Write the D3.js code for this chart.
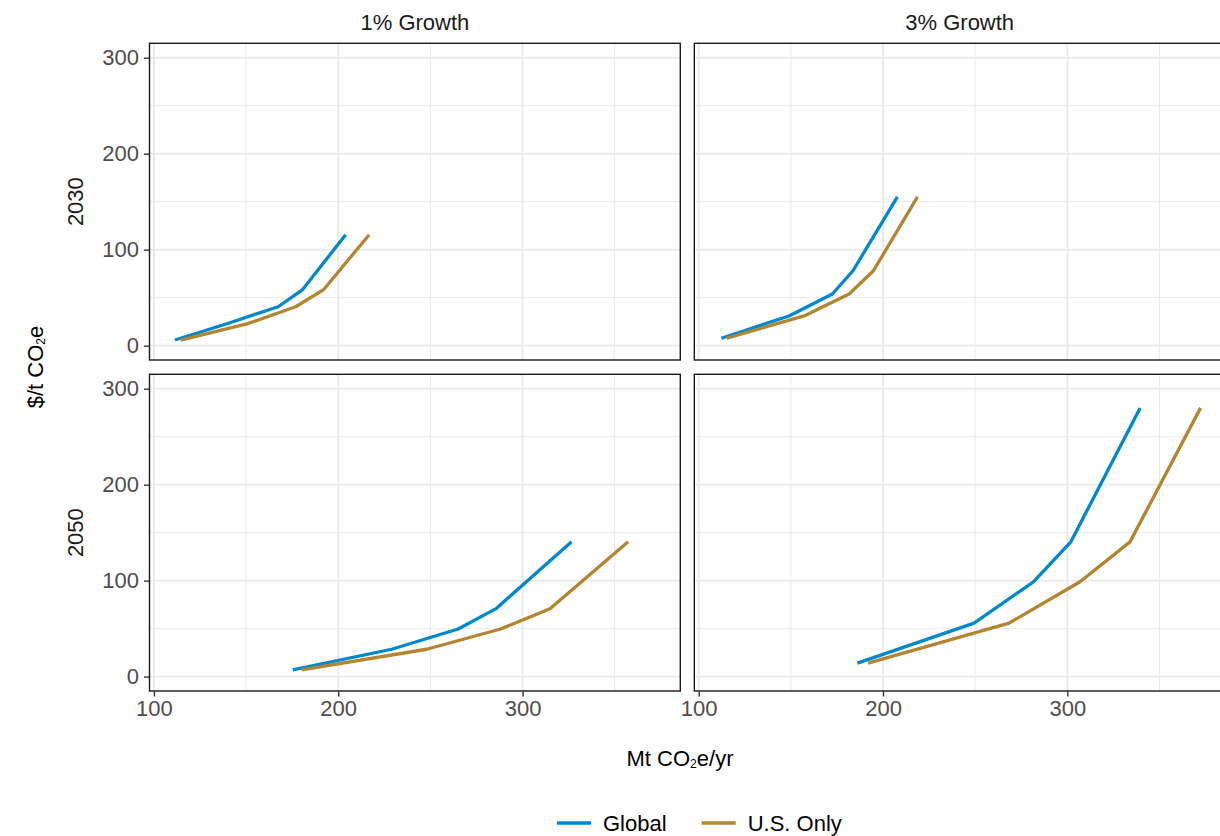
<!DOCTYPE html>
<html>
<head>
<meta charset="utf-8">
<script src="https://cdn.jsdelivr.net/npm/d3@7"></script>
<style>
  html, body { margin: 0; padding: 0; background: #fff; }
  svg { display: block; font-family: "Liberation Sans", Arial, sans-serif; }
</style>
</head>
<body>
<svg id="chart" width="1220" height="836"></svg>
<script>
// ---- data ----
const growthCols = ["1% Growth", "3% Growth"];
const yearRows = ["2030", "2050"];
const seriesNames = ["Global", "U.S. Only"];
const xTicks = [100, 200, 300];
const yTicks = [0, 100, 200, 300];

// carbon price ($/t CO2e) per panel
const price_1_2030 = [5.8, 23, 40.5, 58, 115.5];
const price_1_2050 = [7, 28.5, 49.6, 70.8, 140.5];
const price_3_2030 = [7.7, 30.9, 53.8, 78, 155];
const price_3_2050 = [14, 55.7, 98.8, 140.4, 280];

// abatement (Mt CO2e/yr) - Global
const global_1_2030 = [111.4, 140, 167.4, 180.5, 204];
const global_1_2050 = [175.3, 229, 265.1, 285.6, 326.6];
const global_3_2030 = [112.3, 149, 172.5, 183.7, 207.8];
const global_3_2050 = [186.1, 249.4, 281.6, 301.9, 339.5];
// abatement (Mt CO2e/yr) - U.S. Only
const us_1_2030 = [114.5, 151, 176.9, 191.9, 216.8];
const us_1_2050 = [180.1, 248, 288.1, 314.9, 357.3];
const us_3_2030 = [115.2, 157.2, 181.6, 194.8, 218.7];
const us_3_2050 = [191.9, 268.4, 306.9, 334, 372.3];

const panelData = {
  "1% Growth|2030": { price: price_1_2030, "Global": global_1_2030, "U.S. Only": us_1_2030 },
  "1% Growth|2050": { price: price_1_2050, "Global": global_1_2050, "U.S. Only": us_1_2050 },
  "3% Growth|2030": { price: price_3_2030, "Global": global_3_2030, "U.S. Only": us_3_2030 },
  "3% Growth|2050": { price: price_3_2050, "Global": global_3_2050, "U.S. Only": us_3_2050 }
};

// ---- layout ----
const colors = { "Global": "#0087cc", "U.S. Only": "#b38530" };
const svg = d3.select("#chart");
const FS = 22;
const panelW = 530.8, panelH = 316.7;
const colX = [149.5, 694.3];
const rowY = [43.3, 374.3];

const x = d3.scaleLinear().domain([97.6, 385.6]).range([0, panelW]);
const y = d3.scaleLinear().domain([-15, 315]).range([panelH, 0]);

const line = d3.line().x(d => x(d[0])).y(d => y(d[1]));

growthCols.forEach((g, ci) => {
  yearRows.forEach((yr, ri) => {
    const p = svg.append("g").attr("transform", `translate(${colX[ci]},${rowY[ri]})`);
    p.append("rect").attr("width", panelW).attr("height", panelH).attr("fill", "#fff");
    const xMinor = [150, 250, 350], yMinor = [50, 150, 250];
    p.selectAll(".xminor").data(xMinor).join("line").attr("class", "xminor")
      .attr("x1", d => x(d)).attr("x2", d => x(d)).attr("y1", 0).attr("y2", panelH)
      .attr("stroke", "#ebebeb").attr("stroke-width", 1);
    p.selectAll(".yminor").data(yMinor).join("line").attr("class", "yminor")
      .attr("y1", d => y(d)).attr("y2", d => y(d)).attr("x1", 0).attr("x2", panelW)
      .attr("stroke", "#ebebeb").attr("stroke-width", 1);
    p.selectAll(".xmajor").data(xTicks).join("line").attr("class", "xmajor")
      .attr("x1", d => x(d)).attr("x2", d => x(d)).attr("y1", 0).attr("y2", panelH)
      .attr("stroke", "#ebebeb").attr("stroke-width", 2);
    p.selectAll(".ymajor").data(yTicks).join("line").attr("class", "ymajor")
      .attr("y1", d => y(d)).attr("y2", d => y(d)).attr("x1", 0).attr("x2", panelW)
      .attr("stroke", "#ebebeb").attr("stroke-width", 2);

    const pd = panelData[g + "|" + yr];
    seriesNames.forEach(s => {
      const pts = pd[s].map((v, i) => [v, pd.price[i]]);
      p.append("path").datum(pts).attr("d", line)
        .attr("fill", "none").attr("stroke", colors[s]).attr("stroke-width", 3.3)
        .attr("stroke-linejoin", "round");
    });

    p.append("rect").attr("width", panelW).attr("height", panelH)
      .attr("fill", "none").attr("stroke", "#1a1a1a").attr("stroke-width", 1.4);

    if (ci === 0) {
      const ay = p.append("g").call(d3.axisLeft(y).tickValues(yTicks).tickSize(5.5).tickPadding(5));
      ay.select(".domain").remove();
      ay.selectAll(".tick line").attr("stroke", "#333").attr("stroke-width", 1.4);
      ay.selectAll(".tick text").attr("fill", "#4d4d4d").style("font-size", FS + "px")
        .style("font-family", '"Liberation Sans", Arial, sans-serif');
    }
    if (ri === 1) {
      const ax = p.append("g").attr("transform", `translate(0,${panelH})`)
        .call(d3.axisBottom(x).tickValues(xTicks).tickSize(5.5).tickPadding(4));
      ax.select(".domain").remove();
      ax.selectAll(".tick line").attr("stroke", "#333").attr("stroke-width", 1.4);
      ax.selectAll(".tick text").attr("fill", "#4d4d4d").style("font-size", FS + "px")
        .style("font-family", '"Liberation Sans", Arial, sans-serif');
    }
  });
});

growthCols.forEach((g, ci) => {
  svg.append("text").attr("x", colX[ci] + panelW / 2).attr("y", 22)
    .attr("text-anchor", "middle").attr("dominant-baseline", "central")
    .attr("fill", "#1a1a1a").style("font-size", FS + "px").text(g);
});
yearRows.forEach((yr, ri) => {
  svg.append("text")
    .attr("transform", `translate(75,${rowY[ri] + panelH / 2}) rotate(-90)`)
    .attr("text-anchor", "middle").attr("dominant-baseline", "central")
    .attr("fill", "#1a1a1a").style("font-size", FS + "px").text(yr);
});

const yt = svg.append("text")
  .attr("transform", `translate(35,367) rotate(-90)`)
  .attr("text-anchor", "middle").attr("dominant-baseline", "central")
  .attr("fill", "#000").style("font-size", FS + "px");
yt.append("tspan").text("$/t CO");
yt.append("tspan").attr("dy", 6).style("font-size", "12px").text("2");
yt.append("tspan").attr("dy", -6).text("e");

const xt = svg.append("text").attr("x", 680).attr("y", 758)
  .attr("text-anchor", "middle").attr("dominant-baseline", "central")
  .attr("fill", "#000").style("font-size", FS + "px");
xt.append("tspan").text("Mt CO");
xt.append("tspan").attr("dy", 6).style("font-size", "12px").text("2");
xt.append("tspan").attr("dy", -6).text("e/yr");

const legX = [557, 701.7];
seriesNames.forEach((s, i) => {
  const lg = svg.append("g").attr("transform", `translate(${legX[i]},823)`);
  lg.append("line").attr("x1", 0).attr("x2", 34).attr("y1", 0).attr("y2", 0)
    .attr("stroke", colors[s]).attr("stroke-width", 3.3);
  lg.append("text").attr("x", 46).attr("y", 0).attr("dominant-baseline", "central")
    .attr("fill", "#000").style("font-size", FS + "px").text(s);
});
</script>
</body>
</html>
